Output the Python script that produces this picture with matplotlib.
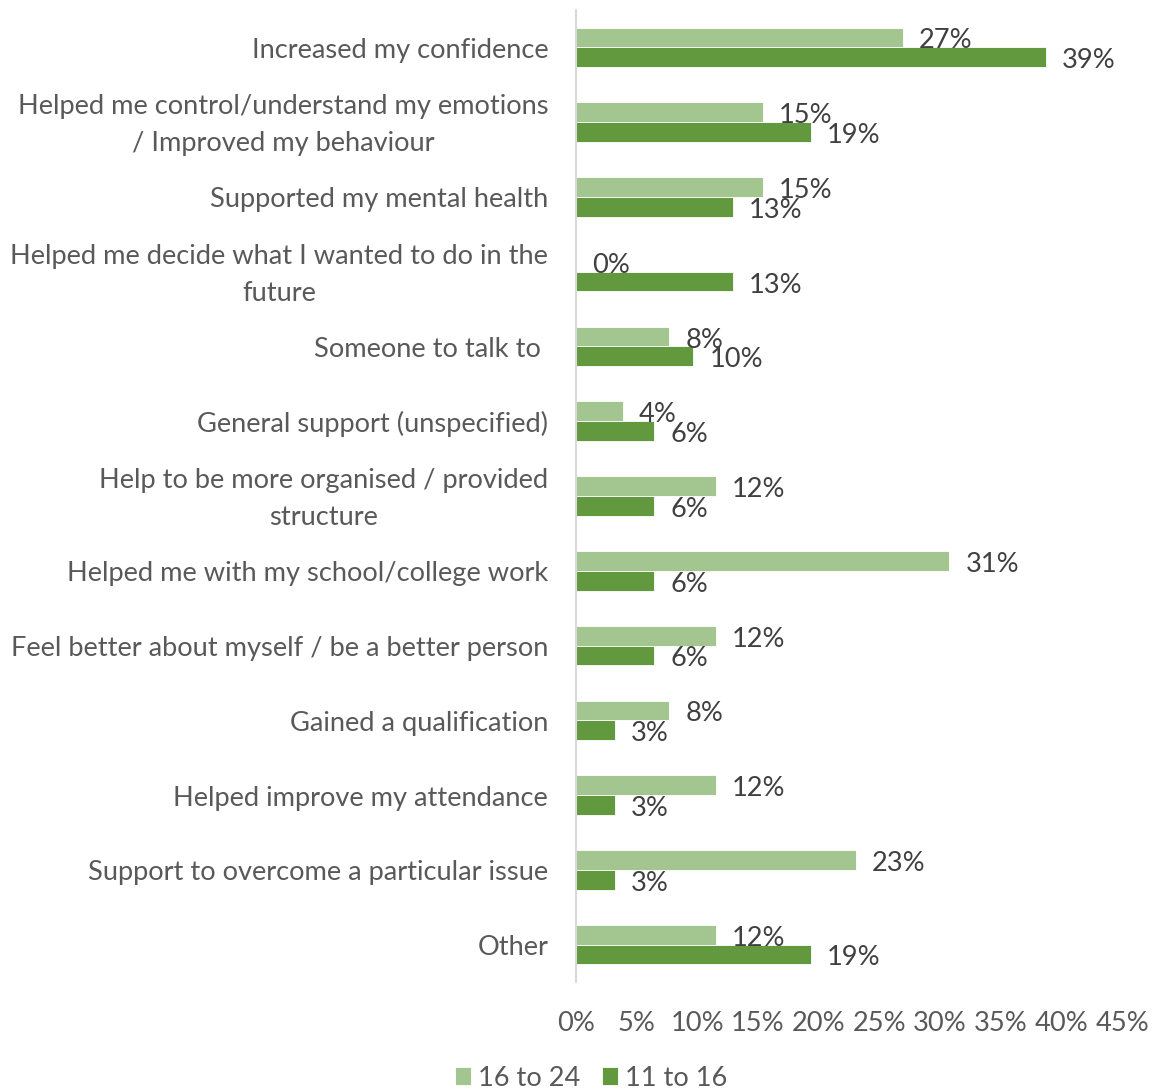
import matplotlib
matplotlib.use("Agg")
import matplotlib.pyplot as plt
import matplotlib.transforms as mtransforms
import numpy as np

categories = [
    "Increased my confidence",
    "Helped me control/understand my emotions\n/ Improved my behaviour",
    "Supported my mental health",
    "Helped me decide what I wanted to do in the\nfuture",
    "Someone to talk to ",
    "General support (unspecified)",
    "Help to be more organised / provided\nstructure",
    "Helped me with my school/college work",
    "Feel better about myself / be a better person",
    "Gained a qualification",
    "Helped improve my attendance",
    "Support to overcome a particular issue",
    "Other",
]
age_16_24 = [26.92, 15.38, 15.38, 0.0, 7.69, 3.85, 11.54, 30.77, 11.54, 7.69, 11.54, 23.08, 11.54]
age_11_16 = [38.71, 19.35, 12.90, 12.90, 9.68, 6.45, 6.45, 6.45, 6.45, 3.23, 3.23, 3.23, 19.35]
series_names = ["16 to 24", "11 to 16"]
x_ticks = [0, 5, 10, 15, 20, 25, 30, 35, 40, 45]

plt.rcParams["font.family"] = ["Lato", "DejaVu Sans"]
LIGHT = "#A3C58F"
DARK = "#62993E"
LABEL_GREY = "#595959"
VALUE_GREY = "#404040"
FS = 19.6

fig = plt.figure(figsize=(11.56, 10.92), dpi=100)
ax = fig.add_axes([576 / 1156, 1 - 982 / 1092, (1122 - 576) / 1156, (982 - 10) / 1092])

y = np.arange(len(categories))
h = 0.264
b1 = ax.barh(y - h / 2, age_16_24, height=h, color=LIGHT, edgecolor="white", linewidth=0.6, label=series_names[0])
b2 = ax.barh(y + h / 2, age_11_16, height=h, color=DARK, edgecolor="white", linewidth=0.6, label=series_names[1])

for bars, vals in ((b1, age_16_24), (b2, age_11_16)):
    for rect, v in zip(bars, vals):
        ax.annotate(f"{v:.0f}%", (v, rect.get_y() + rect.get_height() / 2),
                    xytext=(11.5, -2.5), textcoords="offset points",
                    ha="left", va="center", fontsize=FS, color=VALUE_GREY)

ax.set_xlim(0, 45)
ax.set_ylim(len(categories) - 0.5, -0.5)
ax.set_xticks(x_ticks)
ax.set_xticklabels([f"{t}%" for t in x_ticks], fontsize=FS, color=LABEL_GREY)
ax.set_yticks(y)
ax.set_yticklabels(categories, fontsize=FS, color=LABEL_GREY, multialignment="center",
                   linespacing=1.6, va="center")
ax.tick_params(axis="both", length=0)
ax.tick_params(axis="x", pad=21)
ax.tick_params(axis="y", pad=20)
# nudge category labels slightly downward
shift = mtransforms.ScaledTranslation(0, -2.2 / 72, fig.dpi_scale_trans)
for lbl in ax.get_yticklabels():
    lbl.set_transform(lbl.get_transform() + shift)
for s in ("top", "right", "bottom"):
    ax.spines[s].set_visible(False)
ax.spines["left"].set_color("#D9D9D9")
ax.spines["left"].set_linewidth(1.5)

fig.legend(handles=[b1, b2], labels=series_names, loc="center", bbox_to_anchor=(591 / 1156, 1 - 1078 / 1092),
           ncol=2, frameon=False, fontsize=FS, handlelength=0.6, handleheight=0.6,
           handletextpad=0.25, columnspacing=0.8, labelcolor=LABEL_GREY)

fig.savefig("out.png", dpi=100, facecolor="white")
